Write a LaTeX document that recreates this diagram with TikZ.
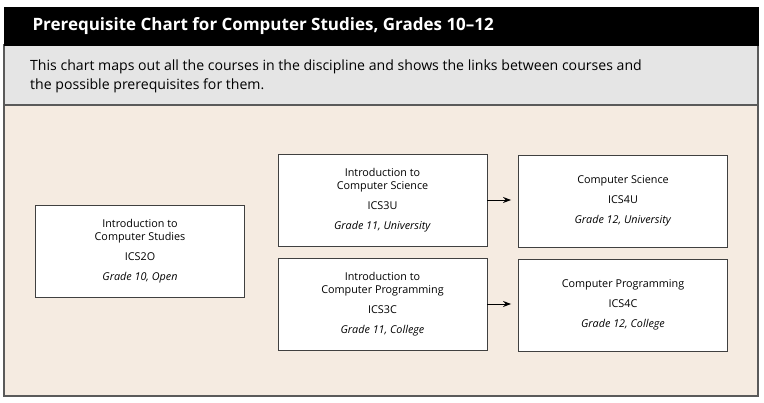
\documentclass[tikz,border=0pt]{standalone}
\usepackage{fontspec}
\setmainfont{Open Sans}
\usetikzlibrary{arrows.meta}
\definecolor{chartbeige}{RGB}{245,235,225}
\definecolor{chartgray}{RGB}{229,229,229}
\definecolor{chartframe}{RGB}{90,90,90}
\tikzset{
	course/.style={draw=black!75, fill=white, line width=0.9pt, minimum width=209pt, minimum height=92pt, inner sep=0pt, align=center, font=\fontsize{10.8}{13}\selectfont},
	link/.style={line width=0.9pt, -{Stealth[length=8pt,width=6pt]}, shorten >=7pt}
}
\newcommand{\coursebox}[3]{#1\\[7pt]#2\\[7.5pt]\textit{#3}}

\begin{document}
\begin{tikzpicture}[x=1pt,y=-1pt]
			%%%%% START %%%%%
			\useasboundingbox (0, 0) rectangle (764, 403);
			
			\draw[fill=chartbeige, draw=chartframe, line width=1.2pt] (4, 105) rectangle (758, 396);
			\draw[fill=chartgray, draw=chartframe, line width=1.2pt] (4, 45) rectangle (758, 105);
			\draw[fill=black] (4, 7) rectangle (758, 45);
			
			\node[anchor=west, text=white, font=\fontsize{17}{20}\selectfont\bfseries] (title) at (29, 26) {Prerequisite Chart for Computer Studies, Grades 10--12};
			\node[anchor=north west, align=left, inner sep=0pt, font=\fontsize{14.1}{19}\selectfont] (intro) at (30, 60) {This chart maps out all the courses in the discipline and shows the links between courses and\\the possible prerequisites for them.};
			
			\node[course] (ics2o) at (140, 251) {\coursebox{Introduction to\\Computer Studies}{ICS2O}{Grade 10, Open}};
			\node[course] (ics3u) at (382.5, 200) {\coursebox{Introduction to\\Computer Science}{ICS3U}{Grade 11, University}};
			\node[course] (ics3c) at (382.5, 304) {\coursebox{Introduction to\\Computer Programming}{ICS3C}{Grade 11, College}};
			\node[course] (ics4u) at (623, 201) {\coursebox{Computer Science}{ICS4U}{Grade 12, University}};
			\node[course] (ics4c) at (623, 305) {\coursebox{Computer Programming}{ICS4C}{Grade 12, College}};
			
			\draw[link] (ics3u.east) -- (ics3u.east -| ics4u.west);
			\draw[link] (ics3c.east) -- (ics3c.east -| ics4c.west);
			%%%%% END %%%%%
\end{tikzpicture}
\end{document}
